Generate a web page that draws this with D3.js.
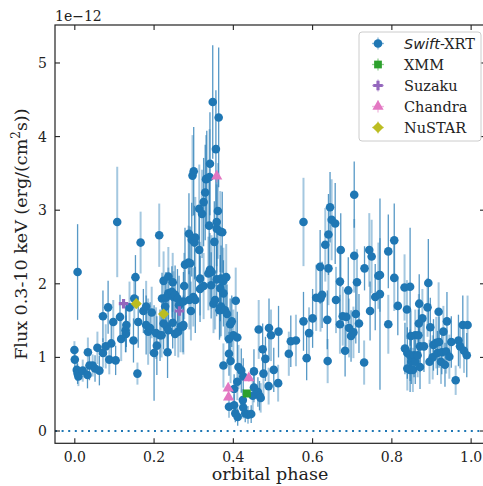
<!DOCTYPE html>
<html>
<head>
<meta charset="utf-8">
<script src="https://cdn.jsdelivr.net/npm/d3@7"></script>
<style>
  body { margin: 0; background: #fff; }
  text { font-family: "DejaVu Serif", serif; fill: #222; }
</style>
</head>
<body>
<div id="chart"></div>
<script>
// values are in units of 1e-12 erg/(cm^2 s)
var swiftPhase = [-0.001, 0.000, 0.005, 0.007, 0.009, 0.007, 0.020, 0.032, 0.033, 0.037, 0.045, 0.051, 0.057, 0.062, 0.071, 0.071, 0.078, 0.084, 0.087, 0.092, 0.097, 0.103,
  0.107, 0.114, 0.117, 0.128, 0.129, 0.130, 0.138, 0.148, 0.150, 0.153, 0.158, 0.160, 0.166, 0.173, 0.180, 0.180, 0.185, 0.190, 0.194,
  0.200, 0.205, 0.207, 0.213, 0.215, 0.219, 0.220, 0.224, 0.224, 0.228, 0.230, 0.232, 0.234, 0.236, 0.236, 0.236, 0.245, 0.247, 0.247, 0.249,
  0.253, 0.253, 0.259, 0.261, 0.263, 0.267, 0.273, 0.274, 0.274, 0.276, 0.278, 0.287, 0.288, 0.289, 0.291, 0.293, 0.295, 0.297, 0.300, 0.299,
  0.302, 0.304, 0.304, 0.314, 0.314, 0.316, 0.316, 0.321, 0.325, 0.325, 0.329, 0.331, 0.333, 0.337, 0.339, 0.340, 0.341, 0.341, 0.344, 0.345,
  0.348, 0.350, 0.352, 0.354, 0.356, 0.358, 0.358, 0.361, 0.363, 0.358, 0.365, 0.367, 0.367, 0.367, 0.369, 0.369, 0.372, 0.375, 0.375, 0.375,
  0.379, 0.382, 0.384, 0.389, 0.389, 0.389, 0.392, 0.393, 0.396, 0.400, 0.402, 0.402, 0.405, 0.406, 0.410, 0.410, 0.411, 0.413, 0.420, 0.424,
  0.425, 0.425, 0.430, 0.437, 0.445, 0.449, 0.452, 0.452, 0.462, 0.464, 0.466, 0.469, 0.474, 0.476, 0.481, 0.489, 0.490, 0.495, 0.502, 0.513,
  0.514, 0.540, 0.545, 0.558, 0.577, 0.577, 0.585, 0.591, 0.600, 0.609, 0.619, 0.620, 0.624, 0.632, 0.637, 0.638, 0.640, 0.640, 0.644, 0.648,
  0.657, 0.659, 0.669, 0.669, 0.671, 0.676, 0.682, 0.685, 0.690, 0.692, 0.697, 0.703, 0.705, 0.705, 0.709, 0.712, 0.717, 0.730, 0.731, 0.743,
  0.745, 0.749, 0.758, 0.766, 0.770, 0.770, 0.791, 0.791, 0.806, 0.806, 0.815, 0.832, 0.833, 0.838, 0.839, 0.839, 0.846, 0.846, 0.846, 0.848,
  0.849, 0.853, 0.856, 0.859, 0.859, 0.865, 0.867, 0.868, 0.869, 0.871, 0.871, 0.877, 0.881, 0.890, 0.892, 0.895, 0.897, 0.903, 0.905, 0.912,
  0.915, 0.918, 0.919, 0.924, 0.926, 0.930, 0.934, 0.937, 0.939, 0.945, 0.950, 0.961, 0.968, 0.972, 0.979, 0.982, 0.989, 0.991];
var swiftFlux = [1.10, 0.97, 0.83, 0.78, 0.74, 2.16, 0.82, 0.76, 1.07, 0.89, 0.89, 0.85, 1.13, 0.82, 1.06, 1.56, 1.15, 1.68, 0.97, 1.19, 1.48, 0.96,
  2.84, 1.55, 1.25, 1.37, 1.32, 1.44, 1.68, 1.23, 1.80, 2.09, 0.78, 1.48, 2.56, 1.63, 1.69, 1.44, 1.35, 1.40, 1.61,
  1.06, 1.33, 1.16, 2.66, 1.30, 1.30, 1.80, 2.04, 1.46, 1.69, 1.81, 1.42, 1.07, 2.10, 1.37, 1.87, 1.89, 2.02, 1.47, 1.82,
  1.85, 1.32, 1.80, 1.35, 1.71, 1.42, 1.42, 1.44, 1.76, 1.97, 2.26, 2.29, 2.68, 1.78, 2.28, 1.63, 2.60, 3.47, 3.53, 1.82,
  2.56, 2.63, 1.78, 3.02, 2.46, 2.07, 1.93, 2.95, 3.11, 1.97, 3.24, 3.42, 3.43, 2.14, 2.79, 3.45, 3.63, 2.19, 1.98, 2.16,
  4.47, 1.73, 2.57, 1.78, 3.83, 2.75, 2.06, 2.99, 4.26, 2.84, 1.64, 2.71, 1.94, 1.67, 2.07, 1.69, 2.70, 2.04, 1.87, 0.89,
  1.64, 2.09, 1.59, 1.25, 1.05, 0.33, 1.45, 0.95, 1.49, 1.30, 0.57, 0.35, 0.24, 1.77, 1.27, 0.67, 0.19, 0.87, 0.82, 0.42,
  0.74, 0.32, 0.24, 0.22, 0.23, 0.48, 0.81, 0.59, 0.53, 1.38, 0.48, 0.45, 1.11, 0.78, 0.98, 0.61, 1.40, 1.30, 0.83, 0.65,
  1.35, 1.05, 1.22, 1.23, 1.49, 2.84, 0.99, 1.33, 1.53, 1.81, 2.23, 1.80, 1.85, 2.53, 1.51, 0.95, 2.67, 2.21, 3.04, 2.87,
  2.82, 1.78, 2.03, 1.45, 2.46, 1.56, 1.09, 1.55, 1.91, 1.40, 1.29, 1.34, 3.21, 2.38, 1.59, 2.02, 1.46, 0.93, 2.21, 2.46,
  1.63, 2.37, 1.82, 2.11, 1.86, 2.12, 2.44, 1.45, 2.59, 2.08, 1.70, 1.95, 1.12, 1.65, 1.06, 0.85, 1.96, 1.03, 0.83, 1.29,
  0.94, 0.83, 1.03, 1.30, 0.94, 1.03, 1.30, 1.46, 1.73, 1.15, 0.87, 1.53, 1.15, 1.68, 2.01, 0.94, 1.41, 1.00, 1.17, 1.20,
  1.06, 1.62, 1.21, 0.94, 1.07, 1.35, 0.90, 1.08, 1.49, 1.01, 1.21, 0.69, 1.23, 1.15, 1.44, 1.09, 1.03, 1.44];
var swiftErr = [0.12, 0.15, 0.15, 0.14, 0.13, 0.65, 0.15, 0.18, 0.20, 0.20, 0.15, 0.18, 0.22, 0.20, 0.20, 0.35, 0.30, 0.36, 0.20, 0.25, 0.30, 0.20,
  0.75, 0.30, 0.30, 0.30, 0.25, 0.30, 0.35, 0.30, 0.30, 0.30, 0.15, 0.35, 0.42, 0.30, 0.35, 0.40, 0.45, 0.35, 0.35,
  0.65, 0.35, 0.40, 0.43, 0.35, 0.30, 0.35, 0.40, 0.35, 0.35, 0.35, 0.35, 0.35, 0.40, 0.30, 0.35, 0.35, 0.40, 0.35, 0.35,
  0.40, 0.30, 0.40, 0.35, 0.40, 0.35, 0.35, 0.40, 0.40, 0.45, 0.50, 0.50, 0.55, 0.40, 0.50, 0.40, 0.50, 0.55, 0.60, 0.40,
  0.50, 0.55, 0.45, 0.60, 0.50, 0.50, 0.45, 0.60, 0.60, 0.45, 0.65, 0.60, 0.65, 0.50, 0.60, 0.65, 0.70, 0.50, 0.45, 0.50,
  0.77, 0.40, 0.55, 0.40, 0.80, 0.60, 0.50, 0.65, 0.95, 0.60, 0.40, 0.55, 0.45, 0.40, 0.45, 0.40, 0.55, 0.45, 0.45, 0.30,
  0.40, 0.45, 0.40, 0.35, 0.30, 0.15, 0.35, 0.30, 0.35, 0.35, 0.20, 0.15, 0.12, 0.45, 0.35, 0.25, 0.12, 0.30, 0.30, 0.15,
  0.25, 0.15, 0.12, 0.12, 0.12, 0.20, 0.30, 0.20, 0.20, 0.40, 0.20, 0.20, 0.35, 0.30, 0.30, 0.25, 0.40, 0.35, 0.30, 0.25,
  0.35, 0.30, 0.35, 0.35, 0.40, 0.60, 0.30, 0.35, 0.40, 0.45, 0.50, 0.45, 0.45, 0.50, 0.40, 0.30, 0.55, 0.50, 0.48, 0.55,
  0.55, 0.45, 0.45, 0.40, 0.50, 0.40, 0.35, 0.40, 0.45, 0.40, 0.35, 0.35, 0.45, 0.50, 0.40, 0.45, 0.40, 0.30, 0.30, 0.50,
  0.40, 0.50, 0.45, 0.45, 1.30, 0.50, 0.50, 0.40, 0.50, 0.45, 0.40, 0.45, 0.35, 0.40, 0.35, 0.30, 0.80, 0.35, 0.30, 0.35,
  0.30, 0.30, 0.30, 0.35, 0.30, 0.30, 0.35, 0.40, 0.40, 0.35, 0.30, 0.40, 0.35, 0.40, 0.60, 0.30, 0.40, 0.30, 0.35, 0.35,
  0.30, 0.40, 0.35, 0.30, 0.30, 0.35, 0.30, 0.30, 0.40, 0.30, 0.35, 0.20, 0.35, 0.30, 0.40, 0.30, 0.30, 0.40];

var xmmPhase = [0.434], xmmFlux = [0.51], xmmErr = [0.04];
var suzakuPhase = [0.123, 0.264], suzakuFlux = [1.73, 1.63], suzakuErr = [0.04, 0.04];
var chandraPhase = [0.358, 0.387, 0.388, 0.439], chandraFlux = [3.46, 0.58, 0.46, 0.72], chandraErr = [0.08, 0.05, 0.05, 0.05];
var nustarPhase = [0.155, 0.224], nustarFlux = [1.73, 1.59], nustarErr = [0.04, 0.04];

var xTicks = [0.0, 0.2, 0.4, 0.6, 0.8, 1.0];
var yTicks = [0, 1, 2, 3, 4, 5];
var legendNames = ["Swift", "XMM", "Suzaku", "Chandra", "NuSTAR"];

var svgWidth = 483;
var svgHeight = 486;
var plot = { left: 55, right: 485, top: 25, bottom: 443.3 };

var svg = d3.select("#chart")
  .append("svg")
  .attr("width", svgWidth)
  .attr("height", svgHeight);

// Step 1: scales
var xScale = d3.scaleLinear().domain([-0.05, 1.035]).range([plot.left, plot.right]);
var yScale = d3.scaleLinear().domain([-0.167, 5.516]).range([plot.bottom, plot.top]);

// Step 2: zero line
svg.append("line")
  .attr("x1", plot.left).attr("x2", plot.right)
  .attr("y1", yScale(0)).attr("y2", yScale(0))
  .attr("stroke", "#1f77b4")
  .attr("stroke-width", 2)
  .attr("stroke-dasharray", "2,4.6");

// Step 3: swift points with error bars
var swiftData = swiftPhase.map(function(p, i) {
  return { x: p, y: swiftFlux[i], e: swiftErr[i] };
});

svg.append("g").selectAll("line")
  .data(swiftData)
  .enter()
  .append("line")
  .attr("x1", d => xScale(d.x)).attr("x2", d => xScale(d.x))
  .attr("y1", d => yScale(d.y + d.e)).attr("y2", d => yScale(d.y - d.e))
  .attr("stroke", "#1f77b4")
  .attr("stroke-width", (d, i) => i % 2 ? 1.3 : 2)
  .attr("opacity", (d, i) => i % 2 ? 0.75 : 0.4);

svg.append("g").selectAll("circle")
  .data(swiftData)
  .enter()
  .append("circle")
  .attr("cx", d => xScale(d.x))
  .attr("cy", d => yScale(d.y))
  .attr("r", 4.3)
  .attr("fill", "#1f77b4");

// Step 4: other instruments
function drawSet(phases, fluxes, errs, color, symbol, size, rot) {
  var g = svg.append("g");
  phases.forEach(function(p, i) {
    g.append("line")
      .attr("x1", xScale(p)).attr("x2", xScale(p))
      .attr("y1", yScale(fluxes[i] + errs[i])).attr("y2", yScale(fluxes[i] - errs[i]))
      .attr("stroke", color).attr("stroke-width", 1.5).attr("opacity", 0.5);
    g.append("path")
      .attr("d", d3.symbol().type(symbol).size(size)())
      .attr("transform", "translate(" + xScale(p) + "," + yScale(fluxes[i]) + ") rotate(" + rot + ")")
      .attr("fill", color);
  });
}
drawSet(xmmPhase, xmmFlux, xmmErr, "#2ca02c", d3.symbolSquare, 64, 0);
drawSet(suzakuPhase, suzakuFlux, suzakuErr, "#9467bd", d3.symbolCross, 50, 0);
drawSet(chandraPhase, chandraFlux, chandraErr, "#e377c2", d3.symbolTriangle, 55, 0);
drawSet(nustarPhase, nustarFlux, nustarErr, "#bcbd22", d3.symbolSquare, 62, 45);

// Step 5: frame and ticks (inward on all sides)
svg.append("rect")
  .attr("x", plot.left).attr("y", plot.top)
  .attr("width", plot.right - plot.left).attr("height", plot.bottom - plot.top)
  .attr("fill", "none").attr("stroke", "#222").attr("stroke-width", 1.2);

var tickLen = 5;
xTicks.forEach(function(t) {
  var x = xScale(t);
  svg.append("line").attr("x1", x).attr("x2", x).attr("y1", plot.bottom).attr("y2", plot.bottom - tickLen).attr("stroke", "#222").attr("stroke-width", 1.1);
  svg.append("line").attr("x1", x).attr("x2", x).attr("y1", plot.top).attr("y2", plot.top + tickLen).attr("stroke", "#222").attr("stroke-width", 1.1);
  svg.append("text")
    .attr("x", x).attr("y", plot.bottom + 19)
    .attr("text-anchor", "middle")
    .attr("font-size", "14px")
    .text(t.toFixed(1));
});
yTicks.forEach(function(t) {
  var y = yScale(t);
  svg.append("line").attr("x1", plot.left).attr("x2", plot.left + tickLen).attr("y1", y).attr("y2", y).attr("stroke", "#222").attr("stroke-width", 1.1);
  svg.append("line").attr("x1", plot.right).attr("x2", plot.right - tickLen).attr("y1", y).attr("y2", y).attr("stroke", "#222").attr("stroke-width", 1.1);
  svg.append("text")
    .attr("x", plot.left - 8).attr("y", y + 5)
    .attr("text-anchor", "end")
    .attr("font-size", "14px")
    .text(t);
});

// offset text and axis labels
svg.append("text")
  .attr("x", plot.left).attr("y", 20.5)
  .attr("font-size", "14px")
  .text("1e\u221212");

svg.append("text")
  .attr("x", (plot.left + plot.right) / 2).attr("y", 480)
  .attr("text-anchor", "middle")
  .attr("font-size", "17.5px")
  .text("orbital phase");

var ylab = svg.append("text")
  .attr("transform", "translate(27," + ((plot.top + plot.bottom) / 2) + ") rotate(-90)")
  .attr("text-anchor", "middle")
  .attr("font-size", "17.5px");
ylab.append("tspan").text("Flux 0.3-10 keV (erg/(cm");
ylab.append("tspan").attr("font-size", "12px").attr("dy", -7).text("2");
ylab.append("tspan").attr("dy", 7).text("s))");

// Step 6: legend
var legend = svg.append("g");
legend.append("rect")
  .attr("x", 359).attr("y", 32).attr("width", 122).attr("height", 109)
  .attr("rx", 3)
  .attr("fill", "#fff").attr("fill-opacity", 0.85)
  .attr("stroke", "#cccccc").attr("stroke-width", 1);

var legendColors = ["#1f77b4", "#2ca02c", "#9467bd", "#e377c2", "#bcbd22"];
var legendSymbols = [d3.symbolCircle, d3.symbolSquare, d3.symbolCross, d3.symbolTriangle, d3.symbolSquare];
var legendSizes = [60, 60, 50, 55, 62];
var legendRot = [0, 0, 0, 0, 45];

legendNames.forEach(function(name, i) {
  var cx = 378, cy = 43.5 + i * 21;
  legend.append("line").attr("x1", cx - 6).attr("x2", cx + 6).attr("y1", cy).attr("y2", cy)
    .attr("stroke", legendColors[i]).attr("stroke-width", 1.3).attr("opacity", 0.5);
  legend.append("line").attr("x1", cx).attr("x2", cx).attr("y1", cy - 6).attr("y2", cy + 6)
    .attr("stroke", legendColors[i]).attr("stroke-width", 1.3).attr("opacity", 0.5);
  legend.append("path")
    .attr("d", d3.symbol().type(legendSymbols[i]).size(legendSizes[i])())
    .attr("transform", "translate(" + cx + "," + cy + ") rotate(" + legendRot[i] + ")")
    .attr("fill", legendColors[i]);
  var t = legend.append("text")
    .attr("x", 404).attr("y", cy + 5)
    .attr("font-size", "14.5px");
  if (i === 0) {
    t.append("tspan").attr("font-family", "DejaVu Sans").attr("font-style", "italic").text(name);
    t.append("tspan").text("-XRT");
  } else {
    t.text(name);
  }
});
</script>
</body>
</html>
